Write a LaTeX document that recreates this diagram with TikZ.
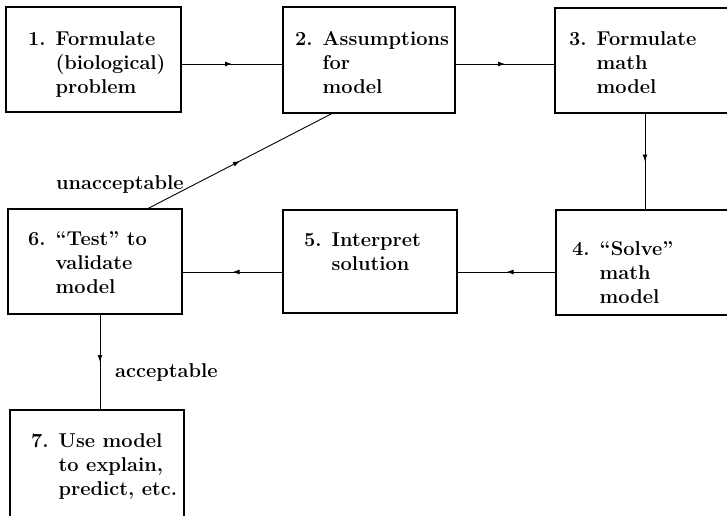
\documentclass[tikz,border=0pt]{standalone}
\usetikzlibrary{arrows.meta,decorations.markings}
\begin{document}
\begin{tikzpicture}[x=1pt,y=-1pt,
  stepbox/.style={draw,line width=1.3pt,rectangle,anchor=north west,inner sep=0pt,outer sep=0pt},
  boxtext/.style={anchor=base west,inner sep=0pt,font=\fontsize{20}{24}\selectfont\bfseries},
  lbl/.style={anchor=base west,inner sep=0pt,font=\fontsize{20}{24}\selectfont\bfseries},
  conn/.style={line width=0.9pt,postaction={decorate},
    decoration={markings,mark=at position 0.5 with {\arrow{Latex[length=7pt,width=5pt]}}}}]
\useasboundingbox (0,0) rectangle (727,515);
\clip (0,0) rectangle (727,515);
\newcommand\bt[2]{\begin{tabular}[t]{@{}l@{\hspace{10pt}}l@{}}#1&#2\end{tabular}}
% boxes
\node[stepbox,minimum width=175pt,minimum height=105pt] (b1) at (6,7) {};
\node[stepbox,minimum width=172pt,minimum height=106pt] (b2) at (283,7) {};
\node[stepbox,minimum width=185pt,minimum height=105pt] (b3) at (555,8) {};
\node[stepbox,minimum width=185pt,minimum height=105pt] (b4) at (556,210) {};
\node[stepbox,minimum width=174pt,minimum height=103pt] (b5) at (283,210) {};
\node[stepbox,minimum width=174pt,minimum height=105pt] (b6) at (8,209) {};
\node[stepbox,minimum width=174pt,minimum height=120pt] (b7) at (10,410) {};
% texts
\node[boxtext] (t1) at (28,45) {\bt{1.}{Formulate\\&(biological)\\&problem}};
\node[boxtext] (t2) at (295,45) {\bt{2.}{Assumptions\\&for\\&model}};
\node[boxtext] (t3) at (569,45) {\bt{3.}{Formulate\\&math\\&model}};
\node[boxtext] (t4) at (572,255) {\bt{4.}{“Solve”\\&math\\&model}};
\node[boxtext] (t5) at (304,246) {\bt{5.}{Interpret\\&solution}};
\node[boxtext] (t6) at (28,245) {\bt{6.}{“Test” to\\&validate\\&model}};
\node[boxtext] (t7) at (31,447) {\bt{7.}{Use model\\&to explain,\\&predict, etc.}};
% connectors
\draw[conn] (b1.east|-0,64) -- (b2.west|-0,64);
\draw[conn] (b2.east|-0,64) -- (b3.west|-0,64);
\draw[conn] (b3.south-|645,0) -- (b4.north-|645,0);
\draw[conn] (b4.west|-0,272) -- (b5.east|-0,272);
\draw[conn] (b5.west|-0,272) -- (b6.east|-0,272);
\draw[conn] (b6.north-|147,0) -- (b2.south-|333,0);
\draw[conn] (b6.south-|100,0) -- (b7.north-|100,0);
% labels
\node[lbl] (l1) at (56,189) {unacceptable};
\node[lbl] (l2) at (115,377) {acceptable};
\end{tikzpicture}
\end{document}
